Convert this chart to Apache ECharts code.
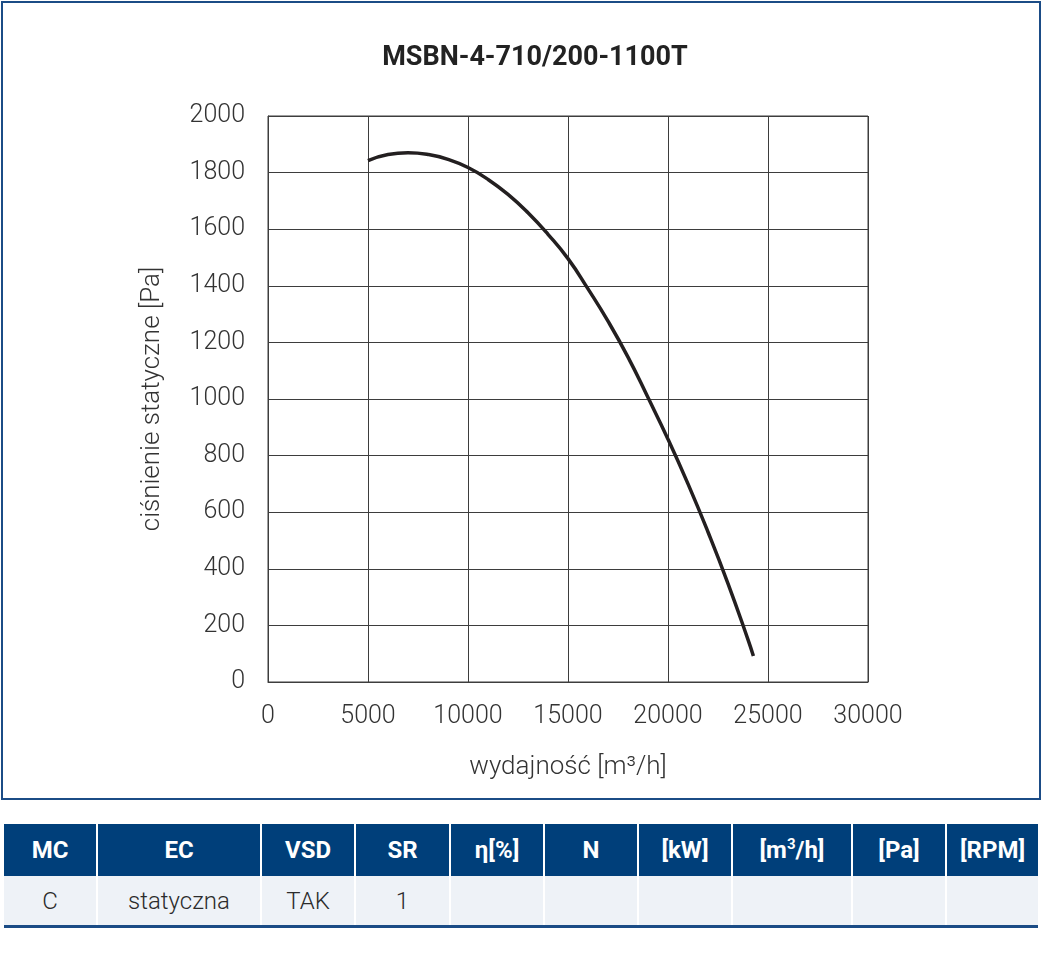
<!DOCTYPE html>
<html>
<head>
<meta charset="utf-8">
<script src="https://cdn.jsdelivr.net/npm/echarts@6/dist/echarts.min.js"></script>
<style>
	body { margin:0; background:#fff; font-family:Roboto, "Noto Sans", sans-serif; }
	.frame { position:absolute; left:1px; top:1px; width:1036px; height:795px; border:2px solid #1b4c86; }
	#main { position:absolute; left:0; top:0; width:1043px; height:800px; }
	table.params { position:absolute; left:4px; top:824px; width:1034px; table-layout:fixed; border-collapse:collapse; border-bottom:3px solid #1b4c86; }
	table.params td { border-left:2px solid #fff; border-right:2px solid #fff; text-align:center; padding:0; font-size:24px; white-space:nowrap; }
	table.params tr.head td { background:#003f7a; color:#fff; font-weight:700; height:52px; }
	table.params tr.row td { background:#eef2f7; color:#2b2b2b; font-weight:300; height:49px; }
	table.params td:first-child { border-left:none; }
	table.params td:last-child { border-right:none; }
	sup { font-size:15px; line-height:0; }
</style>
</head>
<body>
	<div class="frame"></div>
	<div id="main"></div>
	<table class="params">
		<colgroup id="cols"></colgroup>
		<tr class="head" id="head"></tr>
		<tr class="row" id="row"></tr>
	</table>
<script>
// dane
var title = 'MSBN-4-710/200-1100T';
var flow = [5000, 6000, 7000, 8000, 9000, 10000, 11000, 12000, 13000, 14000, 15000, 16000, 17000, 18000, 19000, 20000, 21000, 22000, 23000, 24000, 24270];
var pressure = [1842, 1864, 1870, 1864, 1847, 1818, 1776, 1723, 1658, 1582, 1496, 1389, 1275, 1148, 1005, 858, 700, 530, 348, 150, 92];

var colHeads = ['MC', 'EC', 'VSD', 'SR', 'η[%]', 'N', '[kW]', '[m<sup>3</sup>/h]', '[Pa]', '[RPM]'];
var colValues = ['C', 'statyczna', 'TAK', '1', '', '', '', '', '', ''];
var colWidths = [93, 164, 94, 95, 94, 94, 94, 120, 94, 92];

var cols = '', head = '', row = '';
for (var i in colHeads) {
	cols += '<col style="width:' + colWidths[i] + 'px">';
	head += '<td>' + colHeads[i] + '</td>';
	row += '<td>' + colValues[i] + '</td>';
}
document.getElementById('cols').innerHTML = cols;
document.getElementById('head').innerHTML = head;
document.getElementById('row').innerHTML = row;

var points = [];
for (var j = 0; j < flow.length; j++) {
	points.push([flow[j], pressure[j]]);
}

var lineCol = '#3d3d3d';
var tickTxt = { color: '#333', fontFamily: 'Roboto', fontWeight: 300, fontSize: 25 };
var nameTxt = { color: '#333', fontFamily: 'Roboto', fontWeight: 300, fontSize: 26 };
var plain = function (v) { return String(v); };

var myChart = echarts.init(document.getElementById('main'));
myChart.setOption({
	animation: false,
	title: {
		text: title,
		left: 530,
		top: 40,
		textAlign: 'center',
		textStyle: { color: '#222', fontFamily: 'Roboto', fontWeight: 700, fontSize: 27 }
	},
	grid: { left: 268, top: 116, width: 600, height: 566, show: true, borderColor: lineCol, borderWidth: 1 },
	xAxis: {
		type: 'value',
		min: 0, max: 30000, interval: 5000,
		name: 'wydajność [m³/h]',
		nameLocation: 'middle',
		nameGap: 72,
		nameTextStyle: nameTxt,
		axisLine: { lineStyle: { color: lineCol, width: 1 } },
		axisTick: { show: false },
		axisLabel: Object.assign({ margin: 22, formatter: plain }, tickTxt),
		splitLine: { lineStyle: { color: lineCol, width: 1 } }
	},
	yAxis: {
		type: 'value',
		min: 0, max: 2000, interval: 200,
		name: 'ciśnienie statyczne [Pa]',
		nameLocation: 'middle',
		nameGap: 103,
		nameTextStyle: nameTxt,
		axisLine: { show: true, lineStyle: { color: lineCol, width: 1 } },
		axisTick: { show: false },
		axisLabel: Object.assign({ margin: 23, formatter: plain }, tickTxt),
		splitLine: { lineStyle: { color: lineCol, width: 1 } }
	},
	series: [{
		type: 'line',
		data: points,
		smooth: true,
		showSymbol: false,
		lineStyle: { color: '#231f20', width: 3.5 }
	}]
});
</script>
</body>
</html>
